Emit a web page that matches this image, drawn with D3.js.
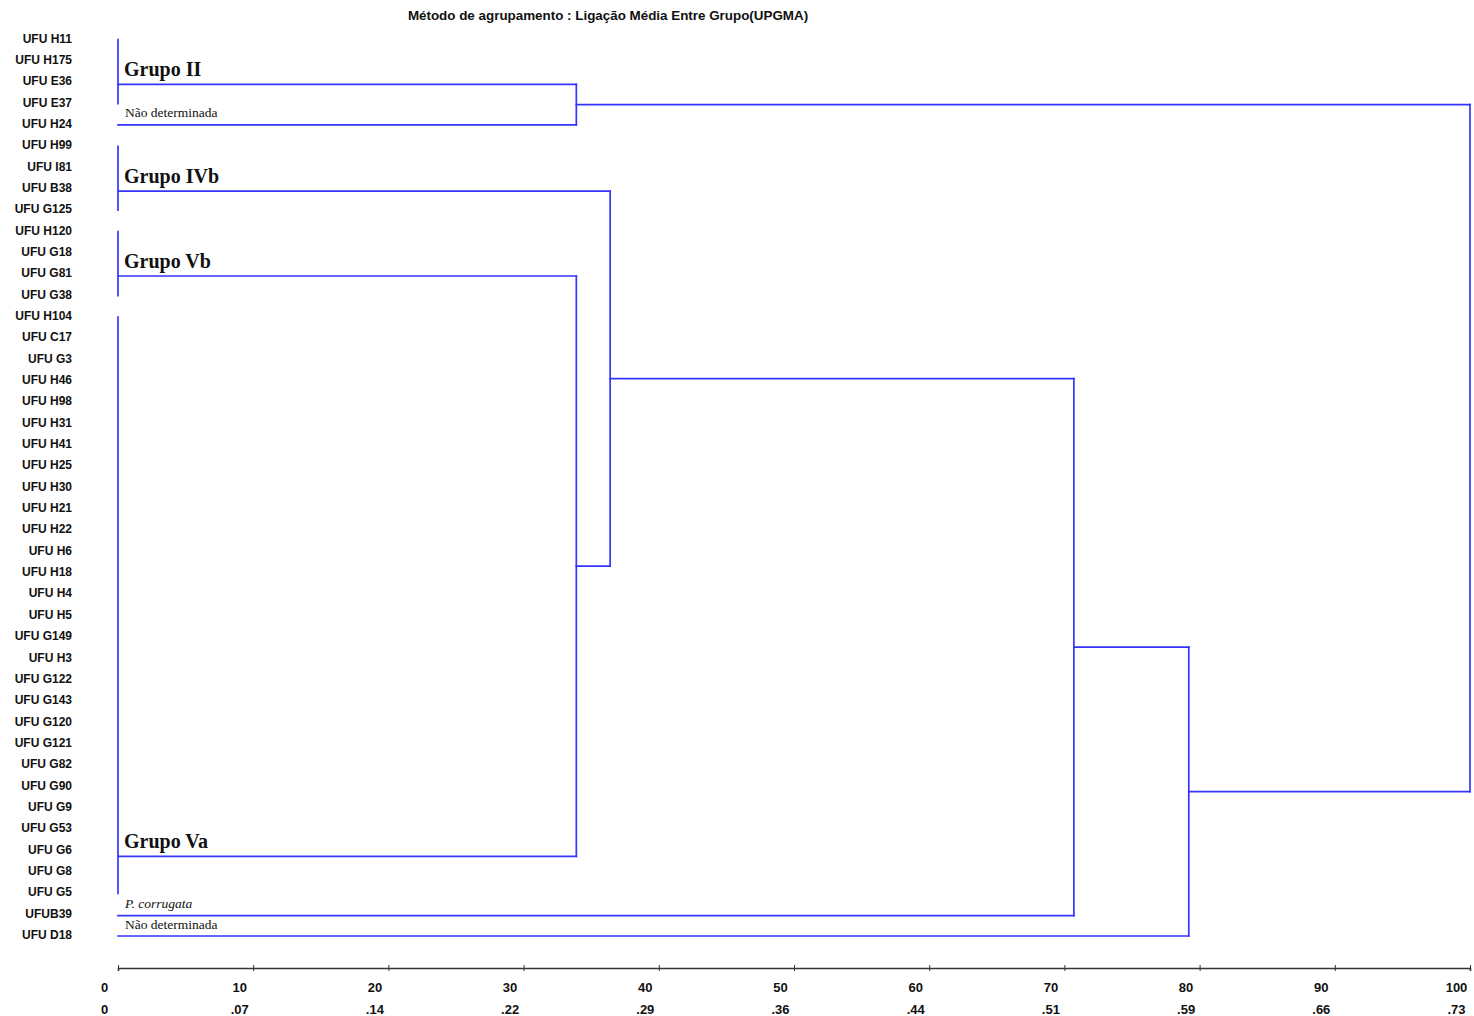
<!DOCTYPE html>
<html>
<head>
<meta charset="utf-8">
<script src="https://cdnjs.cloudflare.com/ajax/libs/d3/7.8.5/d3.min.js"></script>
<style>
  body { margin: 0; background: #fff; }
</style>
</head>
<body>
<div id="chart"></div>
<script>
// isolates, top to bottom
var leaves = ["UFU H11", "UFU H175", "UFU E36", "UFU E37", "UFU H24", "UFU H99", "UFU I81",
	"UFU B38", "UFU G125", "UFU H120", "UFU G18", "UFU G81", "UFU G38", "UFU H104", "UFU C17",
	"UFU G3", "UFU H46", "UFU H98", "UFU H31", "UFU H41", "UFU H25", "UFU H30", "UFU H21",
	"UFU H22", "UFU H6", "UFU H18", "UFU H4", "UFU H5", "UFU G149", "UFU H3", "UFU G122",
	"UFU G143", "UFU G120", "UFU G121", "UFU G82", "UFU G90", "UFU G9", "UFU G53", "UFU G6",
	"UFU G8", "UFU G5", "UFUB39", "UFU D18"];

// groups joined at distance 0 (leaf rows first..last, row where the branch leaves)
var groupNames = ["Grupo II", "Não determinada", "Grupo IVb", "Grupo Vb", "Grupo Va", "P. corrugata", "Não determinada"];
var groupFirst = [0, 4, 5, 9, 13, 41, 42];
var groupLast  = [3, 4, 8, 12, 40, 41, 42];
var groupRow   = [2.1, 4.0, 7.1, 11.08, 38.27, 41.05, 42];

// merges (UPGMA): height on the 0-100 scale, the two joined nodes
var mergeHeight = [33.9, 33.9, 36.4, 70.7, 79.2, 100];
var mergeLeft   = ["g0", "g3", "g2", "m2", "m3", "m0"];
var mergeRight  = ["g1", "g4", "m1", "g5", "g6", "m4"];

// axis
var tickValues = [0, 10, 20, 30, 40, 50, 60, 70, 80, 90, 100];
var tickLabels2 = ["0", ".07", ".14", ".22", ".29", ".36", ".44", ".51", ".59", ".66", ".73"];

var title = "Método de agrupamento : Ligação Média Entre Grupo(UPGMA)";

function init(){
	var w = 1474, h = 1016;
	var blue = "#3434ff";

	var svg = d3.select("#chart").append("svg")
		.attr("width", w)
		.attr("height", h);

	var x = d3.scaleLinear().domain([0, 100]).range([118, 1470]);
	var y = d3.scaleLinear().domain([0, leaves.length - 1]).range([39.5, 936]);

	//title
	svg.append("text")
		.attr("x", 608).attr("y", 20)
		.attr("text-anchor", "middle")
		.style("font", "bold 13.4px 'Liberation Sans', Arial, sans-serif")
		.attr("fill", "#111")
		.text(title);

	//leaf labels
	svg.append("g").selectAll("text")
		.data(leaves)
		.enter().append("text")
		.attr("x", 72)
		.attr("y", function(d, i){ return y(i) - 1; })
		.attr("dominant-baseline", "central")
		.attr("text-anchor", "end")
		.style("font", "bold 12px 'Liberation Sans', Arial, sans-serif")
		.attr("fill", "#111")
		.text(function(d){ return d; });

	//build node table
	var nodes = {};
	groupNames.forEach(function(n, i){
		nodes["g" + i] = {h: 0, row: groupRow[i], first: groupFirst[i], last: groupLast[i], name: n};
	});
	mergeHeight.forEach(function(hv, i){
		var a = nodes[mergeLeft[i]], b = nodes[mergeRight[i]];
		var n = {h: hv, row: (a.row + b.row) / 2, a: a, b: b};
		a.parent = n; b.parent = n;
		nodes["m" + i] = n;
	});

	var lines = [];
	Object.keys(nodes).forEach(function(k){
		var n = nodes[k];
		if (n.a) {
			lines.push([x(n.h), y(n.a.row), x(n.h), y(n.b.row)]);
		} else if (n.first !== n.last) {
			lines.push([x(0), y(n.first), x(0), y(n.last)]);
		}
		if (n.parent) {
			lines.push([x(n.h), y(n.row), x(n.parent.h), y(n.row)]);
		}
	});

	svg.append("g").selectAll("line")
		.data(lines)
		.enter().append("line")
		.attr("x1", function(d){ return d[0]; })
		.attr("y1", function(d){ return d[1]; })
		.attr("x2", function(d){ return d[2]; })
		.attr("y2", function(d){ return d[3]; })
		.attr("stroke", blue)
		.attr("stroke-width", 1.7)
		.attr("stroke-linecap", "square");

	//group labels
	var groups = groupNames.map(function(n, i){ return nodes["g" + i]; });
	svg.append("g").selectAll("text")
		.data(groups)
		.enter().append("text")
		.attr("x", function(d){ return x(0) + (d.name.indexOf("Grupo") === 0 ? 6 : 7); })
		.attr("y", function(d){ return y(d.row) - (d.name.indexOf("Grupo") === 0 ? 8.5 : 7.5); })
		.style("font-family", "'Liberation Serif', 'Times New Roman', serif")
		.style("font-weight", function(d){ return d.name.indexOf("Grupo") === 0 ? "bold" : "normal"; })
		.style("font-style", function(d){ return d.name.indexOf("P.") === 0 ? "italic" : "normal"; })
		.style("font-size", function(d){ return d.name.indexOf("Grupo") === 0 ? "20px" : "13.5px"; })
		.attr("fill", "#111")
		.text(function(d){ return d.name; });

	//axis
	var axis = d3.axisBottom(x)
		.tickValues(tickValues)
		.tickSizeOuter(0)
		.tickSize(3)
		.tickPadding(12)
		.tickFormat(function(d){ return d; });

	var ax = svg.append("g")
		.attr("transform", "translate(0,968)")
		.call(axis);
	ax.select(".domain").attr("stroke", "#333").attr("stroke-width", 1.6);
	ax.selectAll(".tick line").attr("y1", -3).attr("y2", 3).attr("stroke", "#333");
	ax.selectAll(".tick text")
		.attr("dx", -14)
		.attr("fill", "#111")
		.style("font", "bold 13px 'Liberation Sans Narrow', 'Arial Narrow', 'Liberation Sans', sans-serif");

	ax.selectAll(".tick").append("text")
		.attr("y", 46)
		.attr("dx", -14)
		.attr("text-anchor", "middle")
		.attr("fill", "#111")
		.style("font", "bold 13px 'Liberation Sans Narrow', 'Arial Narrow', 'Liberation Sans', sans-serif")
		.text(function(d, i){ return tickLabels2[i]; });
}

window.onload = init;
</script>
</body>
</html>
